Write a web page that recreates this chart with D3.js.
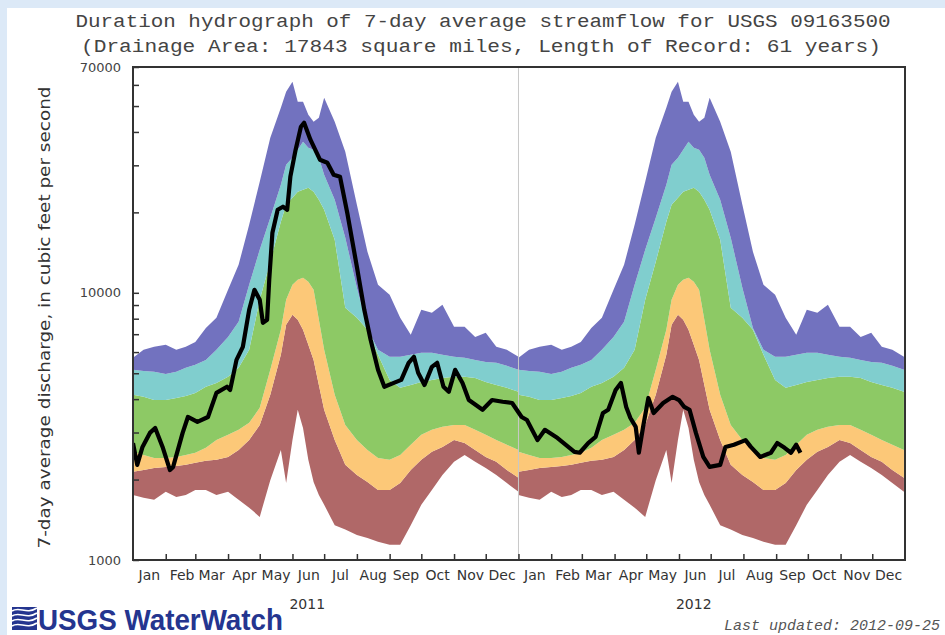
<!DOCTYPE html>
<html>
<head>
<meta charset="utf-8">
<script src="https://cdn.jsdelivr.net/npm/d3@7"></script>
<style>
  body { margin: 0; background: #fff; }
  svg { display: block; }
</style>
</head>
<body>
<div class="chart"></div>
<script>
// daily percentile table (same for every year)
var doy  = [0, 10, 20, 31, 41, 50, 59, 69, 79, 90, 100, 110, 120, 130, 140, 145, 151, 156, 161, 166,
            171, 176, 181, 191, 201, 212, 222, 232, 243, 253, 263, 273, 283, 293, 304, 314, 324, 334, 344, 354, 365];
var pMin = [1750, 1710, 1680, 1800, 1720, 1750, 1830, 1830, 1750, 1800, 1680, 1570, 1450, 1990, 2580, 1940, 2810, 3650, 3120, 2370,
            1960, 1750, 1610, 1350, 1300, 1240, 1210, 1170, 1140, 1140, 1350, 1610, 1830, 2080, 2330, 2470, 2330, 2210, 2080, 1940, 1800];
var p10  = [2140, 2170, 2210, 2230, 2250, 2270, 2310, 2350, 2370, 2430, 2580, 2810, 3200, 4150, 5860, 7590, 8270, 7930, 7270, 6390,
            5610, 4520, 3650, 2810, 2270, 2080, 1960, 1830, 1830, 1940, 2170, 2370, 2540, 2650, 2810, 2740, 2580, 2430, 2330, 2170, 2030];
var p25  = [2540, 2470, 2410, 2410, 2430, 2470, 2520, 2630, 2810, 2940, 3070, 3260, 3710, 5150, 7270, 9420, 10710, 11190, 11380, 11000,
            10260, 7930, 6120, 4150, 3200, 2810, 2580, 2410, 2370, 2470, 2700, 2940, 3070, 3150, 3200, 3200, 3070, 2940, 2810, 2700, 2580];
var p75  = [4150, 4080, 3970, 3970, 4040, 4110, 4220, 4450, 4600, 4850, 5240, 6120, 9420, 13070, 18450, 21360, 22690, 23890, 24310, 24740,
            23890, 22300, 20460, 15790, 8790, 8060, 7270, 5860, 4720, 4410, 4520, 4640, 4720, 4800, 4850, 4850, 4800, 4640, 4520, 4410, 4260];
var p90  = [5150, 5100, 5060, 4970, 5060, 5240, 5380, 5610, 6120, 6840, 7790, 10710, 14490, 19100, 25380, 30160, 32040, 34320, 36780, 34920,
            34320, 32040, 27670, 22300, 16070, 10440, 7390, 6120, 5760, 5760, 5860, 5960, 5960, 5860, 5760, 5710, 5610, 5510, 5470, 5330, 5150];
var pMax = [5710, 6120, 6280, 6390, 6120, 6280, 6550, 7390, 8060, 10260, 12730, 17980, 26050, 38070, 49310, 56590, 61700, 51930, 51930, 46420,
            43700, 45230, 53750, 43700, 33740, 21360, 14240, 10710, 9830, 8060, 6960, 8640, 8420, 9020, 7460, 7460, 6840, 7090, 6280, 6120, 5760];

var years = [2011, 2012];
var months = ["Jan", "Feb", "Mar", "Apr", "May", "Jun", "Jul", "Aug", "Sep", "Oct", "Nov", "Dec"];

// observed 7-day average flow
var obsDates = ["2011-01-01", "2011-01-05", "2011-01-10", "2011-01-17", "2011-01-22", "2011-01-29", "2011-02-05", "2011-02-08",
  "2011-02-17", "2011-02-22", "2011-03-03", "2011-03-13", "2011-03-21", "2011-03-31", "2011-04-03", "2011-04-09", "2011-04-15",
  "2011-04-21", "2011-04-26", "2011-05-01", "2011-05-04", "2011-05-08", "2011-05-10", "2011-05-13", "2011-05-18", "2011-05-23",
  "2011-05-27", "2011-05-30", "2011-06-04", "2011-06-09", "2011-06-12", "2011-06-18", "2011-06-27", "2011-07-04", "2011-07-10",
  "2011-07-16", "2011-07-23", "2011-08-01", "2011-08-08", "2011-08-14", "2011-08-21", "2011-08-27", "2011-09-05", "2011-09-12",
  "2011-09-19", "2011-09-24", "2011-09-28", "2011-10-04", "2011-10-11", "2011-10-16", "2011-10-22", "2011-10-27", "2011-11-02",
  "2011-11-09", "2011-11-15", "2011-11-28", "2011-12-07", "2011-12-17", "2011-12-26", "2012-01-04", "2012-01-09", "2012-01-19",
  "2012-01-26", "2012-02-07", "2012-02-23", "2012-02-28", "2012-03-07", "2012-03-14", "2012-03-21", "2012-03-26", "2012-04-02",
  "2012-04-07", "2012-04-12", "2012-04-16", "2012-04-21", "2012-04-24", "2012-04-28", "2012-05-03", "2012-05-08", "2012-05-17",
  "2012-05-26", "2012-06-01", "2012-06-06", "2012-06-11", "2012-06-17", "2012-06-24", "2012-06-30", "2012-07-10", "2012-07-15",
  "2012-07-23", "2012-08-03", "2012-08-08", "2012-08-17", "2012-08-27", "2012-09-02", "2012-09-09", "2012-09-15", "2012-09-20",
  "2012-09-24"];
var obsFlow = [2740, 2270, 2650, 2990, 3120, 2650, 2170, 2230,
  2990, 3430, 3290, 3430, 4220, 4450, 4330, 5610, 6280,
  8640, 10260, 9420, 7720, 7930, 11190, 16780, 20460, 21000,
  20460, 27200, 34320, 41840, 43300, 37420, 31490, 30690, 27670,
  27200, 19800, 12510, 8640, 6670, 5150, 4450, 4600, 4720,
  5470, 5760, 5020, 4520, 5280, 5470, 4450, 4260, 5150,
  4600, 3970, 3650, 3970, 3910, 3870, 3430, 3340, 2810,
  3070, 2860, 2540, 2520, 2740, 2890, 3550, 3650, 4330,
  4600, 3740, 3400, 3150, 2520, 3150, 4040, 3550, 3870,
  4080, 3970, 3740, 3650, 2990, 2430, 2230, 2270, 2650,
  2700, 2810, 2650, 2430, 2520, 2740, 2630, 2520, 2700,
  2520];

var yLabelTicks = [1000, 10000, 70000];
var yMinorTicks = [2000, 3000, 4000, 5000, 6000, 7000, 8000, 9000, 20000, 30000, 40000, 50000, 60000];

var bandColors = ["#b06868", "#fcc878", "#8dc965", "#80cece", "#7272bf"];
var bandKeys = ["pMin", "p10", "p25", "p75", "p90", "pMax"];

//************************************************************
// Layout
//************************************************************
var W = 945, H = 635;
var margin = { top: 67, right: 40, bottom: 75, left: 133 },
    width = W - margin.left - margin.right,
    height = H - margin.top - margin.bottom;

var svg = d3.select(".chart").append("svg")
    .attr("width", W)
    .attr("height", H);

// light blue page edge
svg.append("rect").attr("width", W).attr("height", 8).attr("fill", "#dce9f7");
svg.append("rect").attr("width", 7).attr("height", H).attr("fill", "#dce9f7");

var parse = d3.timeParse("%Y-%m-%d");

var x = d3.scaleTime()
    .domain([new Date(2011, 0, 1), new Date(2013, 0, 1)])
    .range([0, width]);

var y = d3.scaleLog()
    .domain([1000, 70000])
    .range([height, 0]);

var g = svg.append("g")
    .attr("transform", "translate(" + margin.left + "," + margin.top + ")");

g.append("clipPath").attr("id", "clip")
    .append("rect").attr("width", width).attr("height", height);

// build band rows for both years
var rows = [];
years.forEach(function (yr) {
    doy.forEach(function (d, i) {
        rows.push({
            date: d3.timeDay.offset(new Date(yr, 0, 1), d),
            pMin: pMin[i], p10: p10[i], p25: p25[i], p75: p75[i], p90: p90[i], pMax: pMax[i]
        });
    });
});

var plot = g.append("g").attr("clip-path", "url(#clip)");

bandColors.forEach(function (c, k) {
    var lo = bandKeys[k], hi = bandKeys[k + 1];
    var area = d3.area()
        .x(function (d) { return x(d.date); })
        .y0(function (d) { return y(d[lo]); })
        .y1(function (d) { return y(d[hi]); });
    plot.append("path")
        .datum(rows)
        .attr("fill", c)
        .attr("d", area);
});

// year divider
plot.append("line")
    .attr("x1", x(new Date(2012, 0, 1))).attr("x2", x(new Date(2012, 0, 1)))
    .attr("y1", 0).attr("y2", height)
    .attr("stroke", "#c8c8c8").attr("stroke-width", 1);

// observed line
var obs = obsDates.map(function (d, i) { return { date: parse(d), v: obsFlow[i] }; });
var line = d3.line()
    .x(function (d) { return x(d.date); })
    .y(function (d) { return y(d.v); });

plot.append("path")
    .datum(obs)
    .attr("fill", "none")
    .attr("stroke", "#000")
    .attr("stroke-width", 4.2)
    .attr("stroke-linejoin", "round")
    .attr("d", line);

//************************************************************
// Axes
//************************************************************
var fontTick = "'DejaVu Sans', sans-serif";

var yAxis = d3.axisLeft(y)
    .tickValues(yLabelTicks.concat(yMinorTicks))
    .tickSize(-6)
    .tickPadding(12)
    .tickFormat(function (d) { return yLabelTicks.indexOf(d) >= 0 ? d : ""; });

var ya = g.append("g").call(yAxis);
ya.select(".domain").remove();
ya.selectAll("line").attr("stroke", "#333").attr("stroke-width", 1.5);
ya.selectAll("text").attr("fill", "#444").style("font-family", fontTick).style("font-size", "13px");

var xTicks = d3.axisBottom(x)
    .tickValues(d3.timeMonth.range(new Date(2011, 1, 1), new Date(2013, 0, 1)))
    .tickSize(-6)
    .tickFormat("");
var xa = g.append("g").attr("transform", "translate(0," + height + ")").call(xTicks);
xa.select(".domain").remove();
xa.selectAll("line").attr("stroke", "#333").attr("stroke-width", 1.5);

var midMonths = [];
years.forEach(function (yr) {
    months.forEach(function (m, i) { midMonths.push(new Date(yr, i, 16)); });
});
var xLabels = d3.axisBottom(x)
    .tickValues(midMonths)
    .tickSize(0)
    .tickPadding(10)
    .tickFormat(function (d) { return months[d.getMonth()]; });
var xl = g.append("g").attr("transform", "translate(0," + height + ")").call(xLabels);
xl.select(".domain").remove();
xl.selectAll("text").attr("fill", "#333").style("font-family", fontTick).style("font-size", "14px");

g.selectAll(".yr")
    .data(years)
    .enter().append("text")
    .attr("x", function (d) { return x(new Date(d, 5, 15)); })
    .attr("y", height + 49)
    .attr("text-anchor", "middle")
    .attr("fill", "#333")
    .style("font-family", fontTick)
    .style("font-size", "14px")
    .text(function (d) { return d; });

// frame
g.append("rect")
    .attr("width", width).attr("height", height)
    .attr("fill", "none").attr("stroke", "#333").attr("stroke-width", 2);

//************************************************************
// Titles
//************************************************************
var mono = "'Liberation Mono', 'Courier New', monospace";
svg.append("text")
    .attr("x", 483).attr("y", 27)
    .attr("text-anchor", "middle")
    .attr("fill", "#444")
    .style("font-family", mono).style("font-size", "19px")
    .attr("textLength", 815).attr("lengthAdjust", "spacingAndGlyphs")
    .text("Duration hydrograph of 7-day average streamflow for USGS 09163500");
svg.append("text")
    .attr("x", 481).attr("y", 52)
    .attr("text-anchor", "middle")
    .attr("fill", "#444")
    .style("font-family", mono).style("font-size", "19px")
    .attr("textLength", 800).attr("lengthAdjust", "spacingAndGlyphs")
    .text("(Drainage Area: 17843 square miles, Length of Record: 61 years)");

svg.append("text")
    .attr("transform", "translate(50," + (margin.top + height / 2 + 4) + ") rotate(-90)")
    .attr("text-anchor", "middle")
    .attr("fill", "#333")
    .style("font-family", fontTick).style("font-size", "15px")
    .attr("textLength", 462).attr("lengthAdjust", "spacingAndGlyphs")
    .text("7-day average discharge, in cubic feet per second");

svg.append("text")
    .attr("x", 940).attr("y", 630)
    .attr("text-anchor", "end")
    .attr("fill", "#555")
    .style("font-family", mono).style("font-size", "15px").style("font-style", "italic")
    .text("Last updated: 2012-09-25");

// USGS WaterWatch logo
var logo = svg.append("g").attr("transform", "translate(12,607)");
logo.append("rect").attr("width", 25).attr("height", 23).attr("fill", "#24358f");
[4, 9, 14, 19].forEach(function (o) {
    logo.append("path")
        .attr("d", "M0," + o + " C8," + (o - 5) + " 14," + (o + 4) + " 25," + (o - 3))
        .attr("fill", "none").attr("stroke", "#fff").attr("stroke-width", 1.6);
});
svg.append("text")
    .attr("x", 38).attr("y", 630)
    .attr("fill", "#24358f")
    .style("font-family", "'Liberation Sans', Arial, sans-serif")
    .style("font-size", "29px").style("font-weight", "bold")
    .attr("textLength", 245).attr("lengthAdjust", "spacingAndGlyphs")
    .text("USGS WaterWatch");
</script>
</body>
</html>
